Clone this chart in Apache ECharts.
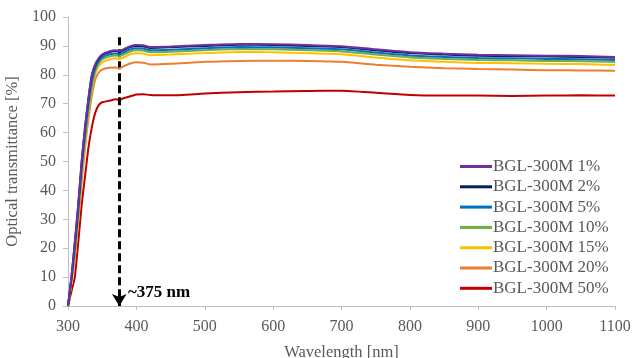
<!DOCTYPE html>
<html>
<head>
<meta charset="utf-8">
<script src="https://cdn.jsdelivr.net/npm/echarts@6/dist/echarts.min.js"></script>
<style>
  html, body { margin: 0; padding: 0; background: #fff; }
  #chart { width: 635px; height: 358px; }
</style>
</head>
<body>
<div id="chart"></div>
<script>
// wavelength samples [nm]
const wavelengths = [300, 305, 310, 315, 320, 325, 330, 335, 340, 345, 350, 360, 370, 375, 380, 390, 400, 410, 420, 450, 500, 550, 600, 650, 700, 750, 800, 850, 900, 950, 1000, 1050, 1100]

// transmittance [%] for each sample
const bgl1 = [0, 10, 22, 35, 50, 62, 72, 80, 83.8, 85.8, 87.1, 88.1, 88.5, 88.2, 88.7, 89.8, 90.3, 90.2, 89.6, 89.8, 90.3, 90.7, 90.6, 90.3, 89.9, 88.8, 87.8, 87.3, 86.9, 86.8, 86.6, 86.5, 86.2]
const bgl2 = [0, 10, 22, 35, 50, 62, 72, 80, 83.5, 85.5, 86.8, 87.8, 88.2, 87.9, 88.4, 89.5, 90, 89.9, 89.3, 89.5, 90, 90.4, 90.3, 90, 89.6, 88.5, 87.5, 87, 86.6, 86.5, 86.3, 86.2, 85.9]
const bgl5 = [0, 9, 20, 33, 48, 60, 70, 78, 82.5, 84.8, 86, 87, 87.4, 87.1, 87.6, 88.7, 89.2, 89.1, 88.5, 88.7, 89.2, 89.6, 89.5, 89.2, 88.8, 87.7, 86.7, 86.2, 85.8, 85.7, 85.5, 85.4, 85.1]
const bgl10 = [0, 9, 19, 32, 46, 58, 68, 76, 81.5, 84, 85.3, 86.3, 86.7, 86.4, 86.9, 88, 88.5, 88.4, 87.8, 88, 88.5, 88.9, 88.8, 88.5, 88.1, 87, 86, 85.5, 85.1, 85, 84.8, 84.7, 84.4]
const bgl15 = [0, 8, 18, 31, 45, 57, 67, 75, 80.5, 83, 84.3, 85.3, 85.7, 85.4, 85.9, 87, 87.5, 87.4, 86.8, 87, 87.5, 87.9, 87.8, 87.5, 87.1, 86, 85, 84.5, 84.1, 84, 83.8, 83.7, 83.4]
const bgl20 = [0, 8, 17, 29, 43, 55, 65, 73, 78.5, 80.8, 81.8, 82.4, 82.5, 82.2, 82.8, 83.8, 84.3, 84.2, 83.6, 83.8, 84.5, 84.8, 84.9, 84.8, 84.5, 83.5, 82.8, 82.3, 82, 81.8, 81.6, 81.5, 81.4]
const bgl50 = [0, 5, 10, 22, 35, 45, 55, 62, 67, 69.5, 70.5, 71, 71.5, 71.2, 71.8, 72.5, 73.2, 73.3, 73, 72.9, 73.5, 74, 74.2, 74.4, 74.5, 73.8, 73, 72.8, 72.8, 72.7, 72.8, 72.9, 72.8]

const seriesNames = ['BGL-300M 1%', 'BGL-300M 2%', 'BGL-300M 5%', 'BGL-300M 10%', 'BGL-300M 15%', 'BGL-300M 20%', 'BGL-300M 50%']
const seriesColors = ['#7030a0', '#002060', '#0070c0', '#70ad47', '#ffc000', '#ed7d31', '#c00000']
const seriesValues = [bgl1, bgl2, bgl5, bgl10, bgl15, bgl20, bgl50]

// arrow marking the absorption edge
const edgeX = 375
const edgeTop = 93
const edgeLabel = '~375 nm'

const xTicks = { min: 300, max: 1100, interval: 100 }
const yTicks = { min: 0, max: 100, interval: 10 }

const font = 'Liberation Serif'
const grey = '#595959'

const chart = echarts.init(document.getElementById('chart'))

const series = seriesNames.map((name, i) => ({
  name,
  type: 'line',
  symbol: 'none',
  smooth: 0.2,
  z: 10 - i,
  data: wavelengths.map((w, j) => [w, seriesValues[i][j]]),
  lineStyle: { color: seriesColors[i], width: 2 },
  itemStyle: { color: seriesColors[i] },
}))

// dashed arrow at the edge
series.push({
  type: 'line',
  data: [],
  silent: true,
  markLine: {
    silent: true,
    symbol: ['none', 'arrow'],
    symbolSize: [11, 12],
    label: { show: false },
    lineStyle: { color: '#000', width: 3, type: [8, 4] },
    data: [[{ coord: [edgeX, edgeTop] }, { coord: [edgeX, 0] }]],
  },
})

const options = {
  animation: false,
  grid: { left: 68, right: 20, top: 17, bottom: 52, outerBoundsMode: 'none' },
  legend: {
    orient: 'vertical',
    left: 455,
    top: 153,
    data: seriesNames,
    icon: 'rect',
    itemWidth: 32,
    itemHeight: 3,
    itemGap: 3.3,
    textStyle: { fontFamily: font, fontSize: 17, color: grey, padding: [0, 0, 0, -4] },
  },
  xAxis: {
    type: 'value',
    min: xTicks.min,
    max: xTicks.max,
    interval: xTicks.interval,
    name: 'Wavelength [nm]',
    nameLocation: 'middle',
    nameGap: 38,
    nameTextStyle: { fontFamily: font, fontSize: 16.5, color: grey },
    axisLine: { lineStyle: { color: '#bfbfbf' } },
    axisTick: { show: true, length: 4, lineStyle: { color: '#bfbfbf' } },
    axisLabel: { fontFamily: font, fontSize: 16, color: grey, margin: 13, formatter: (v) => String(v) },
    splitLine: { show: false },
  },
  yAxis: {
    type: 'value',
    min: yTicks.min,
    max: yTicks.max,
    interval: yTicks.interval,
    name: 'Optical transmittance [%]',
    nameLocation: 'middle',
    nameGap: 41,
    nameTextStyle: { fontFamily: font, fontSize: 16.5, color: grey },
    axisLine: { show: true, lineStyle: { color: '#bfbfbf' } },
    axisTick: { show: true, length: 5, lineStyle: { color: '#bfbfbf' } },
    axisLabel: { fontFamily: font, fontSize: 16, color: grey, margin: 12 },
    splitLine: { show: false },
  },
  graphic: [{
    type: 'text',
    left: 128,
    top: 284,
    style: { text: edgeLabel, fontFamily: font, fontSize: 17, fontWeight: 'bold', fill: '#000' },
  }],
  series,
}

chart.setOption(options, true)
</script>
</body>
</html>
